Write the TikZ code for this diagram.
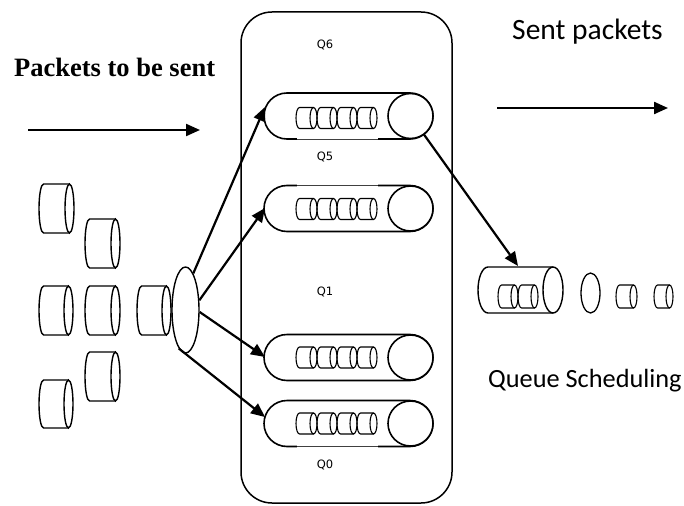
\documentclass[tikz,border=0pt]{standalone}
\usepackage{fontspec}
\usetikzlibrary{shapes.geometric,shapes.misc,arrows.meta}
\newfontfamily\titleserif{Liberation Serif}
\newfontfamily\bodysans{Carlito}
\newfontfamily\labelsans{DejaVu Sans}

% A packet drawn as a drum lying on its side: left end a half ellipse,
% right end a full ellipse. Arguments: x1, top y, x2, bottom y, x radius.
\newcommand\pktdrum[5]{%
  \pgfmathsetmacro\pkA{#1+#5}%
  \pgfmathsetmacro\pkB{#3-#5}%
  \pgfmathsetmacro\pkC{(#2+#4)/2}%
  \pgfmathsetmacro\pkR{(#4-#2)/2}%
  \draw (\pkB,#2) -- (\pkA,#2)
        arc[start angle=270,end angle=90,x radius=#5,y radius=\pkR]
        -- (\pkB,#4);
  \draw (\pkB,\pkC) ellipse[x radius=#5,y radius=\pkR];
}

% Four packets queued inside a tube centred at height #1
\newcommand\queuepkts[1]{%
  \begin{scope}[line width=1.1pt]
    \pgfmathsetmacro\qT{#1-10.5}\pgfmathsetmacro\qB{#1+10.5}
    \pktdrum{296}{\qT}{317}{\qB}{3.5}
    \pktdrum{317}{\qT}{337}{\qB}{3.5}
    \pktdrum{337}{\qT}{357}{\qB}{3.5}
    \pktdrum{357}{\qT}{377}{\qB}{3.5}
  \end{scope}}

% Thin middle stretch of a tube edge at height #1
\newcommand\thinedge[1]{%
  \fill[white] (297,#1-1.4) rectangle (378,#1+1.4);
  \draw[line width=0.5pt,black!75] (297,#1) -- (378,#1);}

\begin{document}
\begin{tikzpicture}[x=1pt,y=-1pt,
  tube/.style={rounded rectangle,draw,line width=1.6pt,minimum width=169pt,
               minimum height=46pt,inner sep=0pt},
  tubecap/.style={circle,draw,line width=1.6pt,minimum size=45pt,inner sep=0pt,fill=white},
  qlabel/.style={font=\labelsans\fontsize{11.5}{13}\selectfont,inner sep=0pt},
  arr/.style={line width=2.2pt,-{Triangle[length=14pt,width=12pt]}},
  drum/.style={line width=1.4pt}]
\useasboundingbox (0,0) rectangle (684,505);

% router box holding the priority queues
\draw[line width=1.5pt,rounded corners=31pt] (241,12) rectangle (452,503);

% queues
\node[tube] (q6) at (348.5,116) {};
\node[tubecap] (c6) at (410.5,116) {};
\node[tube] (q5) at (348.5,208.5) {};
\node[tubecap] (c5) at (410.5,208.5) {};
\node[tube] (q1) at (348.5,357.5) {};
\node[tubecap] (c1) at (410.5,357.5) {};
\node[tube] (q0) at (348.5,423.5) {};
\node[tubecap] (c0) at (410.5,423.5) {};
\thinedge{139}
\thinedge{185.5}
\thinedge{446.5}
\queuepkts{118}
\queuepkts{209}
\queuepkts{357.5}
\queuepkts{423.5}

% queue labels
\node[qlabel] (l6) at (325,45) {Q6};
\node[qlabel] (l5) at (325,157) {Q5};
\node[qlabel] (l1) at (325,292) {Q1};
\node[qlabel] (l0) at (325,465) {Q0};

% incoming packets
\begin{scope}[drum]
  \pktdrum{39}{184}{74}{233}{4.5}
  \pktdrum{85}{219}{120}{268}{4.5}
  \pktdrum{39}{286}{73}{335}{4.5}
  \pktdrum{85}{286}{120}{335}{4.5}
  \pktdrum{137}{286}{171}{335}{4.5}
  \pktdrum{85}{352}{120}{401}{4.5}
  \pktdrum{39}{380}{73}{428}{4.5}
\end{scope}

% classifier
\node[ellipse,draw,line width=1.4pt,minimum width=27pt,minimum height=86pt,inner sep=0pt]
  (fan) at (185.5,310) {};

% classifier to queues
\coordinate (in6) at (265,107);
\coordinate (in5) at (265,208);
\coordinate (in1) at (265,357);
\coordinate (in0) at (265,417);
\draw[arr] (fan.78) -- (in6);
\draw[arr] (fan.35) -- (in5);
\draw[arr] (fan.-8) -- (in1);
\draw[arr] (fan.-100) -- (in0);

% scheduler output
\begin{scope}[drum]
  \pktdrum{478}{267}{563}{313}{10}
\end{scope}
\begin{scope}[line width=1.1pt]
  \pktdrum{498}{285}{518}{308}{3.5}
  \pktdrum{518}{285}{538}{308}{3.5}
  \pktdrum{616}{285}{637}{308}{3.5}
  \pktdrum{654}{285}{673}{308}{3.5}
\end{scope}
\node[ellipse,draw,line width=1.3pt,minimum width=19pt,minimum height=40pt,inner sep=0pt]
  (gap) at (590.5,293) {};
\coordinate (schedtop) at (518,266);
\draw[arr] (c6.-54) -- (schedtop);

% captions and flow arrows
\node[anchor=base west,inner sep=0pt,font=\titleserif\bfseries\fontsize{26.5}{30}\selectfont]
  (intext) at (14,77) {Packets to be sent};
\coordinate (inA) at (28,130);
\coordinate (inB) at (200,130);
\draw[arr] (inA) -- (inB);

\node[anchor=base west,inner sep=0pt,font=\bodysans\fontsize{29.5}{33}\selectfont]
  (outtext) at (512,40) {Sent packets};
\coordinate (outA) at (497,108);
\coordinate (outB) at (668,108);
\draw[arr] (outA) -- (outB);

\node[anchor=base west,inner sep=0pt,font=\bodysans\fontsize{26.3}{30}\selectfont]
  (schedtext) at (488,387) {Queue Scheduling};
\end{tikzpicture}
\end{document}
